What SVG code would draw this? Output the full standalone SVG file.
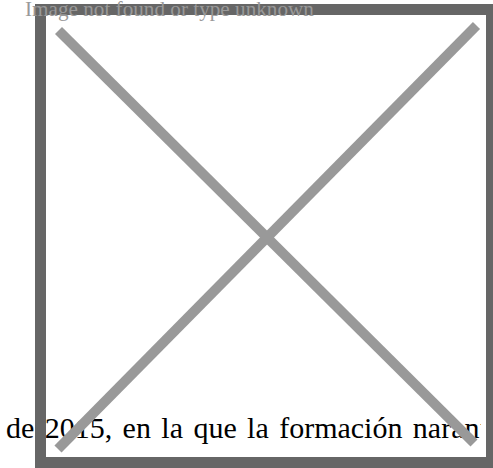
<svg xmlns="http://www.w3.org/2000/svg" width="493" height="468" viewBox="0 0 493 468">
  <defs>
    <clipPath id="captionClip">
      <rect x="0" y="380" width="463" height="88"/>
      <rect x="463" y="380" width="18" height="59.5"/>
    </clipPath>
  </defs>
  <style>
    .caption { font-family: "Liberation Serif", "Times New Roman", serif; font-size: 30px; fill: #000; word-spacing: 2.9px; }
    .alt { font-family: "Liberation Serif", "Times New Roman", serif; font-size: 21.2px; fill: #999; }
    .frame { fill: none; stroke: #666; stroke-width: 11; }
    .cross { stroke: #999; stroke-width: 10; stroke-linecap: butt; }
  </style>
  <rect width="493" height="468" fill="#fff"/>
  <g id="caption-text" clip-path="url(#captionClip)">
    <text class="caption" x="6" y="438">de 2015, en la que la formación naranja</text>
  </g>
  <g id="placeholder">
    <rect class="frame" x="40.5" y="9.5" width="451" height="453"/>
    <line class="cross" x1="58.5" y1="30.5" x2="474" y2="443"/>
    <line class="cross" x1="476.5" y1="25.5" x2="58" y2="449"/>
  </g>
  <g id="alt-text">
    <text class="alt" x="25" y="16">Image not found or type unknown</text>
  </g>
</svg>
